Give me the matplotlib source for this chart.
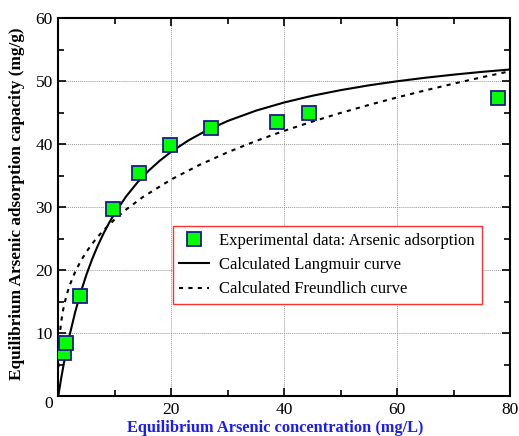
import matplotlib
matplotlib.use("Agg")
import matplotlib.pyplot as plt
from matplotlib.ticker import MultipleLocator

plt.rcParams['font.family'] = ['Liberation Serif', 'DejaVu Serif']

# Experimental data
exp_c = [1.0, 1.4, 3.8, 9.7, 14.3, 19.7, 27.0, 38.7, 44.4, 77.9]
exp_q = [6.8, 8.4, 15.9, 29.7, 35.4, 39.9, 42.6, 43.5, 44.9, 47.4]

# Langmuir curve
lang_c = [0, 0.5, 1, 1.5, 2, 3, 4, 5, 6, 7, 8, 9, 10, 12, 14, 16, 18, 20, 23, 26,
          30, 35, 40, 45, 50, 55, 60, 65, 70, 75, 80]
lang_q = [0, 2.75, 5.25, 7.54, 9.64, 13.36, 16.55, 19.32, 21.75, 23.89, 25.79, 27.50,
          29.04, 31.69, 33.91, 35.79, 37.40, 38.80, 40.58, 42.06, 43.69, 45.33, 46.63,
          47.70, 48.59, 49.35, 50.00, 50.56, 51.05, 51.49, 51.87]

# Freundlich curve
freu_c = [0.02, 0.05, 0.1, 0.2, 0.3, 0.5, 0.75, 1, 1.5, 2, 3, 4, 5, 6, 7, 8, 10, 12,
          15, 20, 25, 30, 35, 40, 45, 50, 55, 60, 65, 70, 75, 80]
freu_q = [4.56, 5.96, 7.30, 8.94, 10.07, 11.69, 13.16, 14.32, 16.12, 17.54, 19.75,
          21.48, 22.93, 24.19, 25.30, 26.31, 28.08, 29.62, 31.62, 34.40, 36.71, 38.72,
          40.51, 42.13, 43.60, 44.97, 46.24, 47.43, 48.55, 49.62, 50.63, 51.59]

x_ticks = [0, 20, 40, 60, 80]
y_ticks = [0, 10, 20, 30, 40, 50, 60]

fig = plt.figure(figsize=(5.19, 4.36), dpi=100)
ax = fig.add_axes([0.1123, 0.0917, 0.9827 - 0.1123, 0.958 - 0.0917])

ax.plot(exp_c, exp_q, linestyle='none', marker='s', markersize=9.5,
        markerfacecolor='#00ff00', markeredgecolor='#1a1a8c', markeredgewidth=1.3,
        label='Experimental data: Arsenic adsorption', zorder=5)
ax.plot(lang_c, lang_q, color='black', linewidth=1.5, label='Calculated Langmuir curve', zorder=4)
ax.plot(freu_c, freu_q, color='black', linewidth=1.5, linestyle=(0, (2, 2.5)),
        label='Calculated Freundlich curve', zorder=4)

ax.set_xlim(0, 80)
ax.set_ylim(0, 60)
ax.set_xticks(x_ticks)
ax.set_yticks(y_ticks)
ax.xaxis.set_minor_locator(MultipleLocator(10))
ax.yaxis.set_minor_locator(MultipleLocator(5))
ax.set_xticklabels([''] + [str(v) for v in x_ticks[1:]])
ax.set_yticklabels([''] + [str(v) for v in y_ticks[1:]])
ax.tick_params(which='both', direction='in', top=True, right=True, labelsize=12.5)
ax.tick_params(which='major', length=6, width=1.2, pad=4)
ax.tick_params(which='minor', length=4, width=1.2)
for s in ax.spines.values():
    s.set_linewidth(1.5)
ax.grid(True, which='major', linestyle=(0, (1, 1)), color='#999999', linewidth=0.7)
ax.set_axisbelow(True)

fig.text(49 / 519, 1 - 404 / 436, '0', fontsize=12.5, ha='center', va='center')

ax.set_xlabel('Equilibrium Arsenic concentration (mg/L)', fontsize=11.75, fontweight='bold',
              color='#1a1aff')
ax.xaxis.set_label_coords((275 - 58.3) / 451.7, -(428 - 396) / 377.7)
ax.xaxis.label.set_va('center')
ax.set_ylabel('Equilibrium Arsenic adsorption capacity (mg/g)', fontsize=12.4, fontweight='bold',
              color='black')
ax.yaxis.set_label_coords(-(58.3 - 17.5) / 451.7, (396 - 203.5) / 377.7)
ax.yaxis.label.set_va('center')

leg = ax.legend(loc='lower left', bbox_to_anchor=(0.253, 0.2436), borderaxespad=0,
                fontsize=12, frameon=True, fancybox=False, edgecolor='#ff3030',
                framealpha=1, handlelength=1.8, handletextpad=0.6, labelspacing=0.5,
                borderpad=0.4)
leg.get_frame().set_linewidth(1.0)

fig.savefig('out.png', dpi=100)
